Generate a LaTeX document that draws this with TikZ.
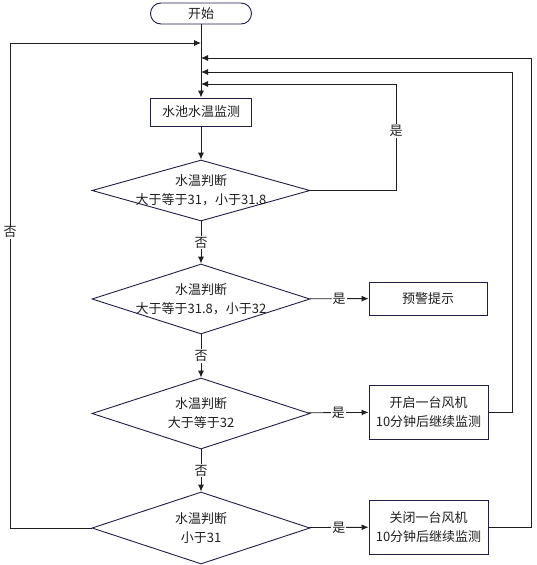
\documentclass[tikz,border=0pt]{standalone}
\usepackage{fontspec}
\setmainfont{Noto Sans CJK SC}
\usetikzlibrary{shapes.geometric,arrows.meta,positioning}
\definecolor{boxline}{RGB}{30,30,70}
\definecolor{txt}{RGB}{30,30,30}
\tikzset{
  startbox/.style={draw=boxline, line width=0.9pt, rounded corners=10.5pt, minimum width=101pt, minimum height=21pt, inner sep=0pt},
  stepbox/.style={draw=boxline, line width=0.9pt, minimum width=119pt, inner sep=0pt, align=center},
  judge/.style={diamond, draw=boxline, line width=0.9pt, minimum width=218pt, minimum height=70pt, inner sep=0pt},
  judgetext/.style={align=center},
  flow/.style={draw=black!88, line width=0.9pt, -{Latex[length=7pt,width=6pt]}},
  lab/.style={fill=white, inner sep=1pt}
}

\begin{document}
\begin{tikzpicture}[x=1pt, y=-1pt, every node/.style={font=\fontsize{13}{19}\selectfont, text=txt}]
\useasboundingbox (0,0) rectangle (537,565);

  % main column
  \node[startbox] (start) at (201,13.5) {开始};
  \node[stepbox, minimum width=101pt, minimum height=28pt] (monitor) at (201,112) {水池水温监测};
  \node[judge, minimum height=61pt, label={[judgetext]center:水温判断\\大于等于31，小于31.8}] (d1) at (201,190.5) {};
  \node[judge, label={[judgetext]center:水温判断\\大于等于31.8，小于32}] (d2) at (201,299) {};
  \node[judge, minimum height=71pt, label={[judgetext]center:水温判断\\大于等于32}] (d3) at (201,413.5) {};
  \node[judge, minimum height=72pt, label={[judgetext]center:水温判断\\小于31}] (d4) at (201,528) {};

  % actions
  \node[stepbox, minimum width=118pt, minimum height=33pt] (warn) at (428,298.5) {预警提示};
  \node[stepbox, minimum height=54pt] (fanon) at (428.5,412) {开启一台风机\\10分钟后继续监测};
  \node[stepbox, minimum height=54pt] (fanoff) at (428.5,527) {关闭一台风机\\10分钟后继续监测};

  % loop points
  \coordinate (j0) at (201,43);
  \coordinate (j1) at (201,58);
  \coordinate (j2) at (201,72);
  \coordinate (j3) at (201,84);
  \coordinate (r1) at (396,84);
  \coordinate (r2) at (512,72);
  \coordinate (r3) at (531,58);
  \coordinate (l1) at (10,43);

  % connectors
  \draw[flow] (start) -- (monitor);
  \draw[flow] (monitor) -- (d1);
  \draw[flow] (d1) -| node[pos=0.78, lab] {是} (r1) -- (j3);
  \draw[flow] (d1) -- node[lab] {否} (d2);
  \draw[flow] (d2) -- node[lab] {是} (warn);
  \draw[flow] (d2) -- node[lab] {否} (d3);
  \draw[flow] (d3) -- node[lab] {是} (fanon);
  \draw[flow] (d3) -- node[lab] {否} (d4);
  \draw[flow] (d4) -- node[lab] {是} (fanoff);
  \draw[flow] (fanon) -| (r2) -- (j2);
  \draw[flow] (fanoff) -| (r3) -- (j1);
  \draw[flow] (d4) -| node[pos=0.805, lab] {否} (l1) -- (j0);

\end{tikzpicture}
\end{document}
